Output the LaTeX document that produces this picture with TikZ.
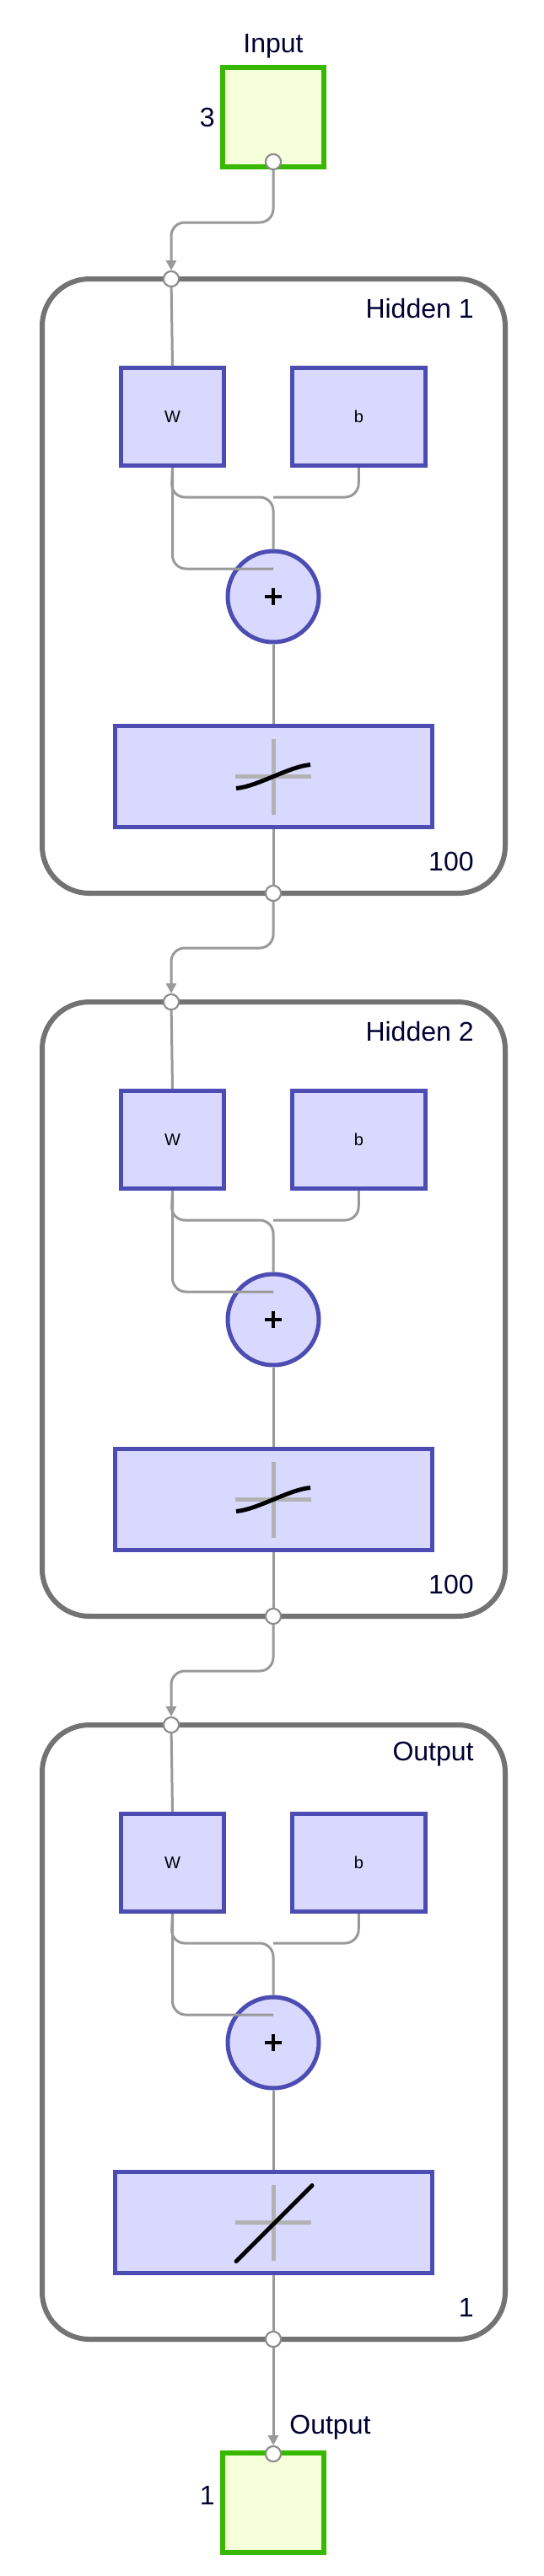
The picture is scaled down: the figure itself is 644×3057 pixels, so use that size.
\documentclass[tikz,border=0pt]{standalone}
\usepackage{fontspec}
\setmainfont{Liberation Sans}
\usetikzlibrary{arrows.meta}
\begin{document}
\begin{tikzpicture}[x=0.5pt,y=-0.5pt,
  lbl/.style={font=\fontsize{16}{18}\selectfont, text=black!80!blue, inner sep=0pt},
  iobox/.style={draw=green!60!black!70!lime, fill=lime!15, line width=3pt, minimum width=60pt, minimum height=59pt, inner sep=0pt},
  layer/.style={draw=black!55, line width=3pt, rounded corners=28pt, inner sep=0pt},
  wb/.style={draw=blue!40!gray, fill=blue!15, line width=2.5pt, inner sep=0pt, minimum height=58pt},
  conn/.style={draw=black!40, line width=1.5pt, rounded corners=8pt},
  port/.style={circle, draw=black!45, fill=white, line width=1pt, minimum size=9pt, inner sep=0pt},
  arr/.style={-{Triangle[width=6pt,length=6pt]}}]
\useasboundingbox (0,0) rectangle (644,3057);
% input
\node[iobox] (in) at (324,139) {};
\node[lbl,anchor=south] (inlbl) at (324,70) {Input};
\node[lbl,anchor=east] (inn) at (255,139) {3};
\node[port] (inp) at (324,192) {};
\foreach \i/\name/\n/\tf in {0/Hidden 1/100/s,1/Hidden 2/100/s,2/Output/1/l}{
  \pgfmathsetmacro{\o}{\i*858}
  \begin{scope}[yshift=-\o*0.5pt]
    \node[layer, minimum width=274.5pt, minimum height=364.5pt] (L\i) at (324.5,695.5) {};
    \node[lbl,anchor=east] (LN\i) at (562,366) {\name};
    \node[lbl,anchor=east] (LC\i) at (562,1022) {\n};
    \node[wb, minimum width=61pt] (W\i) at (204.5,494.5) {W};
    \node[wb, minimum width=79pt] (B\i) at (425.5,494.5) {b};
    \node[circle, draw=blue!40!gray, fill=blue!15, line width=2.5pt, minimum size=54pt, inner sep=0pt] (S\i) at (324,708) {};
    \draw[line width=2pt] (S\i.center)+(-10,0) -- +(10,0) (S\i.center)+(0,-10) -- +(0,10);
    \node[wb, minimum width=188pt, minimum height=60pt] (T\i) at (324,921.5) {};
    \draw[black!30, line width=2.5pt] (T\i.center)+(-45,0) -- +(45,0) (T\i.center)+(0,-45) -- +(0,45);
    \coordinate (tc\i) at (324,921.5);
    \node[port] (P\i) at (203,331) {};
    \node[port] (Q\i) at (324,1060) {};
    \coordinate (j\i) at (324,350);
    \draw[conn] (W\i.south) |- (324,675-350-0+350) ;
    \draw[conn] (W\i.south) -- (203,590) -- (324,590) -- (S\i.north);
    \draw[conn] (B\i.south) -- (425,590) -- (324,590);
    \draw[conn] (P\i) -- (W\i.north);
    \draw[conn] (S\i.south) -- (T\i.north);
    \draw[conn] (T\i.south) -- (Q\i);
  \end{scope}
}
\draw[line width=2.5pt] (tc0)+(-44,14) .. controls +(25,-2) and +(-25,2) .. +(44,-14);
\draw[line width=2.5pt] (tc1)+(-44,14) .. controls +(25,-2) and +(-25,2) .. +(44,-14);
\draw[line width=2.5pt, line cap=round] (tc2)+(-44,46) -- +(46,-44);
% connections between layers
\draw[conn, arr] (inp) -- (324,264) -- (203,264) -- (P0);
\draw[conn, arr] (Q0) -- (324,1125) -- (203,1125) -- (P1);
\draw[conn, arr] (Q1) -- (324,1983) -- (203,1983) -- (P2);
% output
\node[iobox] (out) at (324,2970) {};
\node[port] (outp) at (324,2912) {};
\draw[conn, arr] (Q2) -- (outp);
\node[port] at (Q2) {};
\node[port] at (outp) {};
\node[port] at (inp) {};
\node[port] at (P0) {};\node[port] at (P1) {};\node[port] at (P2) {};
\node[port] at (Q0) {};\node[port] at (Q1) {};
\node[lbl,anchor=west] (outlbl) at (343,2881) {Output};
\node[lbl,anchor=east] (outn) at (255,2961) {1};
\end{tikzpicture}
\end{document}
